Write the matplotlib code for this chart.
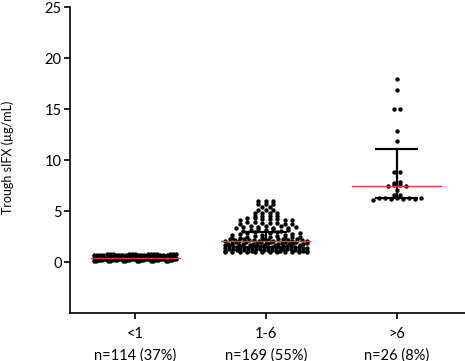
import numpy as np
import matplotlib
matplotlib.use("Agg")
import matplotlib.pyplot as plt

plt.rcParams['font.family'] = ['Lato', 'DejaVu Sans']

# ---------------- data ----------------
categories = ['<1', '1-6', '>6']
n_labels = ['n=114 (37%)', 'n=169 (55%)', 'n=26 (8%)']

g1_levels = [0.1, 0.2, 0.3, 0.4, 0.5, 0.6, 0.7, 0.8]
g1_counts = [12, 14, 15, 16, 15, 15, 14, 13]

g2_levels = [1.0, 1.1, 1.2, 1.3, 1.4, 1.5, 1.6, 1.7, 1.8, 1.9, 2.0,
             2.1, 2.2, 2.3, 2.4, 2.5, 2.6, 2.7, 2.8, 2.9, 3.0,
             3.1, 3.2, 3.3, 3.4, 3.5, 3.6, 3.8, 3.9, 4.0, 4.1, 4.2, 4.3,
             4.5, 4.8, 5.1, 5.4, 5.75, 6.05]
g2_counts = [12, 7, 8, 7, 7, 8, 7, 6, 6, 6, 6,
             6, 6, 6, 4, 4, 2, 3, 2, 3, 2,
             2, 3, 2, 3, 3, 3, 3, 3, 2, 3, 3, 2,
             4, 4, 3, 2, 3, 3]

g3_values = [18.0, 16.9, 15.0, 15.0, 12.9, 11.9, 8.9, 8.9,
             7.9, 7.8, 7.6, 7.6, 7.5, 7.5, 7.1, 6.6, 6.6,
             6.3, 6.3, 6.3, 6.3, 6.3, 6.2, 6.2, 6.2, 6.1]

medians = [0.45, 2.1, 7.5]
err_low = [0.25, 1.5, 6.35]
err_high = [0.7, 3.0, 11.15]

groups = [np.repeat(g1_levels, g1_counts),
          np.repeat(g2_levels, g2_counts),
          np.asarray(g3_values, float)]

# ---------------- layout ----------------
W, H = 465, 361
fig = plt.figure(figsize=(W / 100, H / 100), dpi=100)
ax_left, ax_right, ax_top, ax_bottom = 70, 465, 7.3, 313.3
ax = fig.add_axes([ax_left / W, (H - ax_bottom) / H,
                   (ax_right - ax_left) / W, (ax_bottom - ax_top) / H])
xmin, xmax = -0.497, 2.522
ax.set_xlim(xmin, xmax)
ax.set_ylim(-5, 25)
px_per_x = (ax_right - ax_left) / (xmax - xmin)


def swarm_x(vals, center, rh, max_dx, max_half):
    vals = np.asarray(vals, float)
    rows = np.floor(vals / rh).astype(int)
    xs = np.empty_like(vals)
    for r in np.unique(rows):
        idx = np.where(rows == r)[0]
        idx = idx[np.argsort(vals[idx], kind='stable')]
        n = len(idx)
        dx = max_dx if n < 2 else min(max_dx, 2 * max_half / (n - 1))
        offsets = (np.arange(n) - (n - 1) / 2) * dx
        stride = next(s for s in (7, 5, 3, 2, 1) if np.gcd(s, n) == 1)
        perm = (np.arange(n) * stride) % n
        xs[idx] = center + offsets[perm]
    return xs


red = '#e8383d'
cap_half = 0.165
med_half = 0.34
row_dx = [6.5, 7.5, 6.0]
for i, vals in enumerate(groups):
    ax.plot([i, i], [err_low[i], err_high[i]], color='black', lw=1.6,
            zorder=2, solid_capstyle='butt')
    for yv in (err_low[i], err_high[i]):
        ax.plot([i - cap_half, i + cap_half], [yv, yv], color='black',
                lw=1.6, zorder=2, solid_capstyle='butt')
    xs = swarm_x(vals, i, 0.335, row_dx[i] / px_per_x, 41 / px_per_x)
    ax.scatter(xs, vals, s=10, color='black', linewidths=0, zorder=3)
    ax.plot([i - med_half, i + med_half], [medians[i], medians[i]],
            color=red, lw=1.0, zorder=4)

ax.spines['top'].set_visible(False)
ax.spines['right'].set_visible(False)
for s in ('left', 'bottom'):
    ax.spines[s].set_linewidth(1.2)

ax.set_yticks([0, 5, 10, 15, 20, 25])
ax.set_xticks(range(len(categories)))
ax.set_xticklabels([f'{c}\n{n}' for c, n in zip(categories, n_labels)],
                   linespacing=1.6)
ax.tick_params(axis='y', length=4.5, width=1.2, pad=1.5, labelsize=10.5)
ax.tick_params(axis='x', length=4.5, width=1.2, pad=5.5, labelsize=10.5)

fig.text(8 / W, 1 - 157 / H, 'Trough sIFX (µg/mL)', rotation=90,
         ha='center', va='center', fontsize=9)

fig.savefig('out.png', dpi=100)
